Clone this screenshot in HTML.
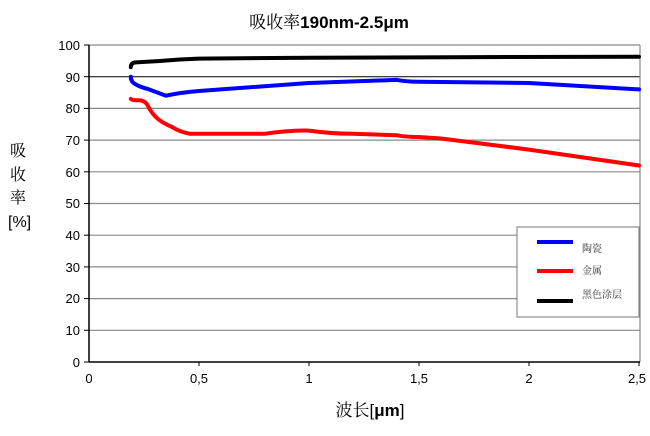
<!DOCTYPE html>
<html><head><meta charset="utf-8"><style>
html,body{margin:0;padding:0;background:#fff;}
svg text{font-family:"Liberation Sans","Noto Sans CJK SC",sans-serif;}
.cj{font-family:"Noto Serif CJK SC",serif;}
</style></head><body>
<svg width="650" height="431" viewBox="0 0 650 431" xmlns="http://www.w3.org/2000/svg">
<rect width="650" height="431" fill="#fff"/>
<text x="329" y="28" font-size="17" text-anchor="middle"><tspan class="cj">吸收率</tspan><tspan font-weight="bold">190nm-2.5μm</tspan></text>
<g stroke="#888" stroke-width="1.2">
<line x1="89" y1="45" x2="640" y2="45"/>
<line x1="89" y1="108.4" x2="640" y2="108.4"/>
<line x1="89" y1="140.1" x2="640" y2="140.1"/>
<line x1="89" y1="171.8" x2="640" y2="171.8"/>
<line x1="89" y1="203.5" x2="640" y2="203.5"/>
<line x1="89" y1="235.2" x2="640" y2="235.2"/>
<line x1="89" y1="266.9" x2="640" y2="266.9"/>
<line x1="89" y1="298.6" x2="640" y2="298.6"/>
<line x1="89" y1="330.3" x2="640" y2="330.3"/>
</g>
<line x1="89" y1="76.7" x2="640" y2="76.7" stroke="#000" stroke-width="1"/>
<line x1="640" y1="45" x2="640" y2="362" stroke="#888" stroke-width="1.2"/>
<line x1="89" y1="45" x2="89" y2="362" stroke="#000" stroke-width="1.5"/>
<line x1="89" y1="362" x2="640" y2="362" stroke="#000" stroke-width="1.5"/>
<g stroke="#000" stroke-width="1">
<line x1="84" y1="45" x2="89" y2="45"/><line x1="84" y1="76.7" x2="89" y2="76.7"/><line x1="84" y1="108.4" x2="89" y2="108.4"/><line x1="84" y1="140.1" x2="89" y2="140.1"/><line x1="84" y1="171.8" x2="89" y2="171.8"/><line x1="84" y1="203.5" x2="89" y2="203.5"/><line x1="84" y1="235.2" x2="89" y2="235.2"/><line x1="84" y1="266.9" x2="89" y2="266.9"/><line x1="84" y1="298.6" x2="89" y2="298.6"/><line x1="84" y1="330.3" x2="89" y2="330.3"/><line x1="84" y1="362" x2="89" y2="362"/>
<line x1="199" y1="362" x2="199" y2="366"/><line x1="309" y1="362" x2="309" y2="366"/><line x1="419" y1="362" x2="419" y2="366"/><line x1="529" y1="362" x2="529" y2="366"/><line x1="639" y1="362" x2="639" y2="366"/>
</g>
<g font-size="13" text-anchor="end">
<text x="80" y="50">100</text><text x="80" y="82">90</text><text x="80" y="113">80</text><text x="80" y="145">70</text><text x="80" y="177">60</text><text x="80" y="208">50</text><text x="80" y="240">40</text><text x="80" y="272">30</text><text x="80" y="303">20</text><text x="80" y="335">10</text><text x="80" y="367">0</text>
</g>
<g font-size="13" text-anchor="middle">
<text x="89" y="383">0</text><text x="199" y="383">0,5</text><text x="309" y="383">1</text><text x="419" y="383">1,5</text><text x="529" y="383">2</text><text x="637" y="383">2,5</text>
</g>
<g font-size="16">
<text class="cj" x="10" y="156">吸</text><text class="cj" x="10" y="180">收</text><text class="cj" x="10" y="203">率</text><text x="8" y="227">[%]</text>
</g>
<text x="370" y="416" font-size="17" text-anchor="middle"><tspan class="cj">波长</tspan>[<tspan font-weight="bold">μm</tspan>]</text>
<g fill="none" stroke-width="4" stroke-linejoin="round" stroke-linecap="round">
<path stroke="#000" d="M130.8,67.2 Q131,62.6 136,62.4 L160,61 Q180,59.2 199,58.6 L309,57.7 L450,57.2 L639,56.7"/>
<path stroke="#0000ff" d="M130.8,76.7 Q130.8,82 136,84.5 Q140,87 148,89 L166,95.7 Q180,92.5 199,91 L309,83 L397,79.9 Q405,81.5 419,81.8 L529,83 L639,89.4"/>
<path stroke="#ff0000" d="M130.8,98.9 Q132,100.3 138,100.3 Q145,100 148,106 Q152,114 158,119 Q162,122.5 172,127 Q180,132 190,133.8 L265,133.8 Q290,130 309,130.6 Q330,133.6 353,133.8 L397,135.3 Q405,137 419,137 L441,138.5 L529,149.6 L639,165.5"/>
</g>
<rect x="517" y="227" width="122" height="90" fill="#fff" stroke="#777" stroke-width="1"/>
<g stroke-width="4">
<line x1="537" y1="242" x2="573" y2="242" stroke="#0000ff"/>
<line x1="537" y1="271" x2="573" y2="271" stroke="#ff0000"/>
<line x1="537" y1="301" x2="573" y2="301" stroke="#000"/>
</g>
<g font-size="10" fill="#333" class="cj">
<text class="cj" x="582" y="252">陶瓷</text><text class="cj" x="582" y="274">金属</text><text class="cj" x="582" y="298">黑色涂层</text>
</g>
</svg>
</body></html>
